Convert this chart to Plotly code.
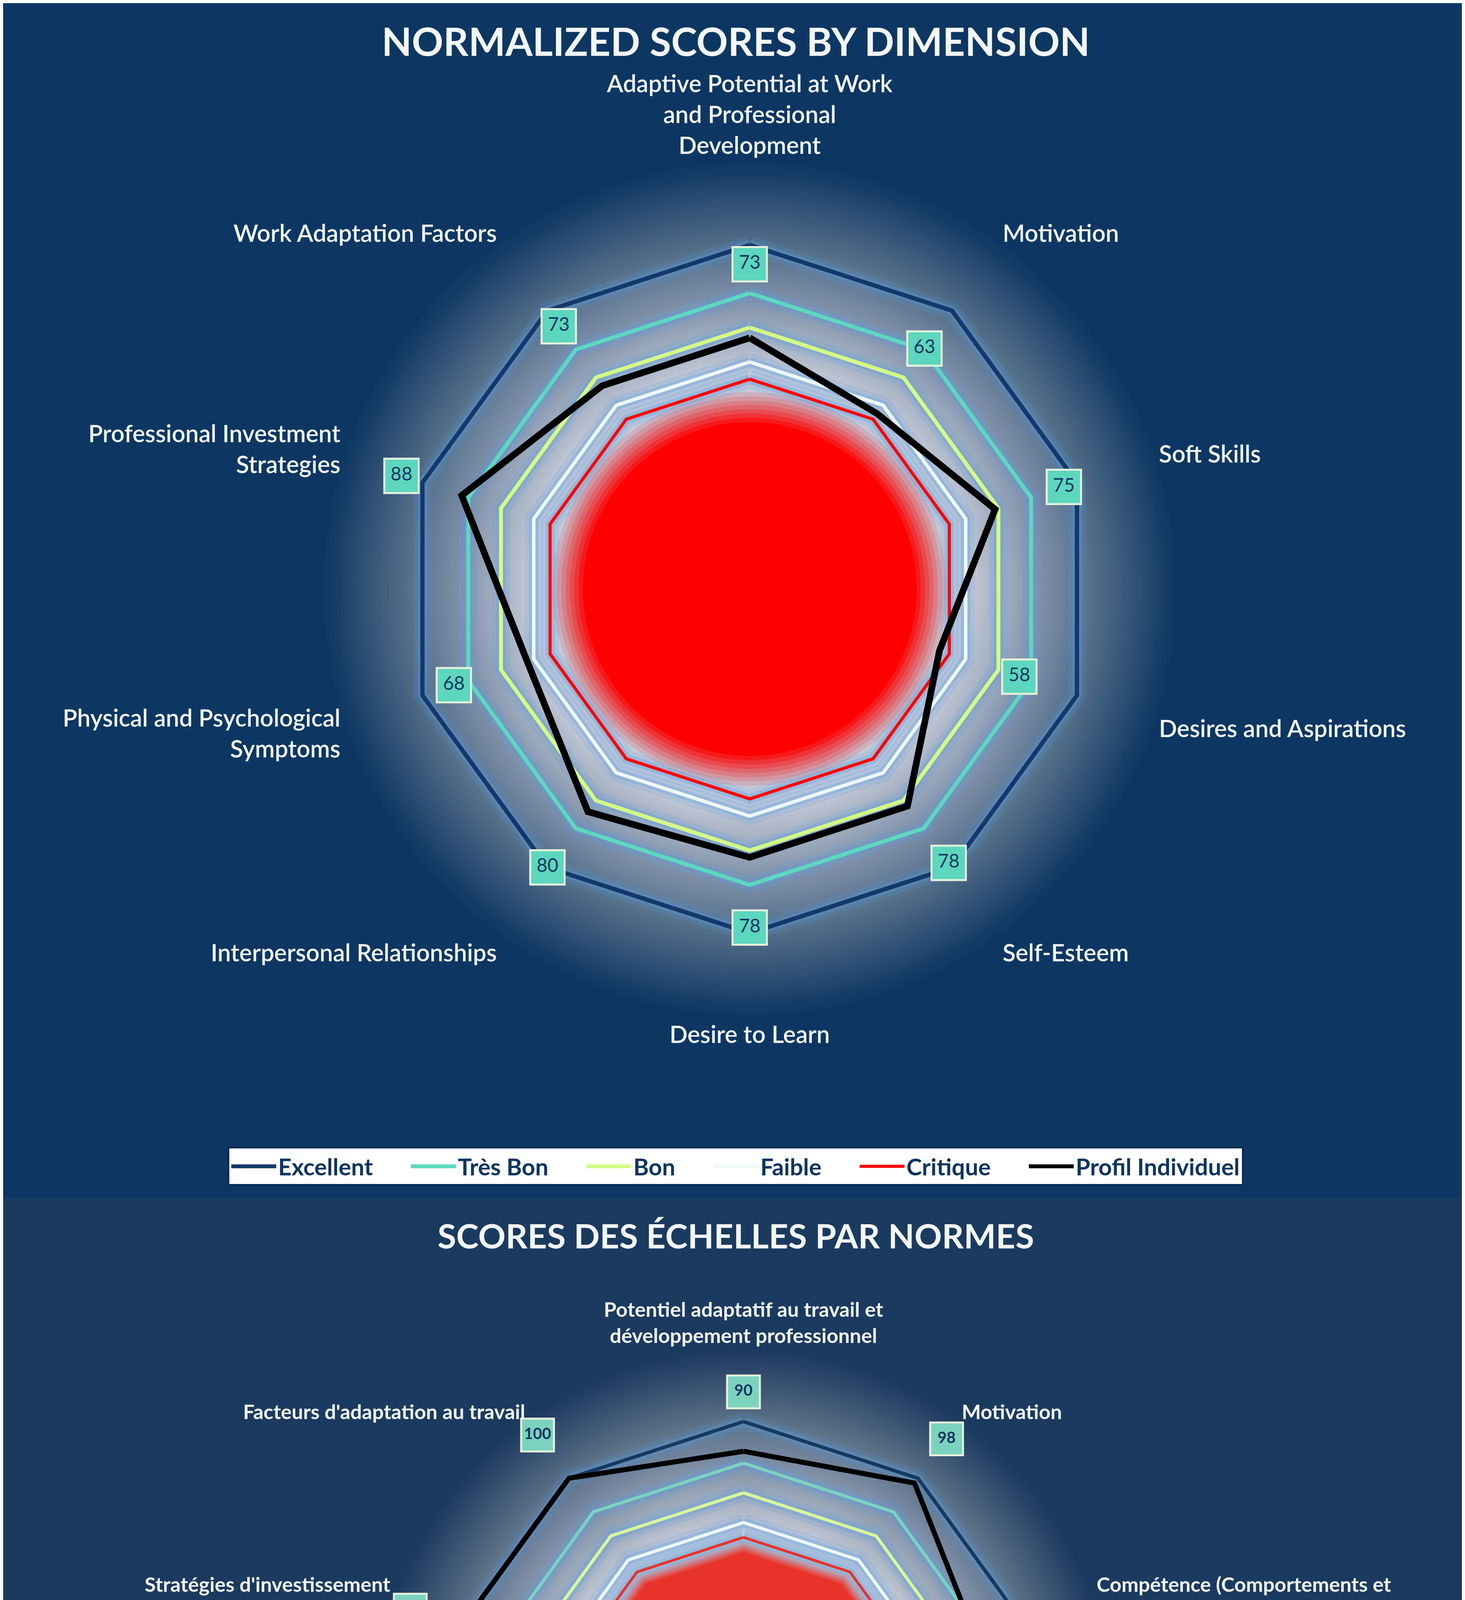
import numpy as np
import plotly.graph_objects as go

# ---------------------------------------------------------------- data
top_title = "NORMALIZED SCORES BY DIMENSION"
top_categories = [
    "Adaptive Potential at Work<br>and Professional<br>Development",
    "Motivation",
    "Soft Skills",
    "Desires and Aspirations",
    "Self-Esteem",
    "Desire to Learn",
    "Interpersonal Relationships",
    "Physical and Psychological<br>Symptoms",
    "Professional Investment<br>Strategies",
    "Work Adaptation Factors",
]
top_profile = [73, 63, 75, 58, 78, 78, 80, 68, 88, 73]

bottom_title = "SCORES DES ÉCHELLES PAR NORMES"
bottom_categories = [
    "Potentiel adaptatif au travail et<br>développement professionnel",
    "Motivation",
    "Compétence (Comportements et<br>attitudes)",
    "Désirs et aspirations",
    "Estime de soi",
    "Désir d'apprendre",
    "Relation interpersonnelle",
    "Symptômes physiques et<br>psychologiques",
    "Stratégies d'investissement<br>professionnel",
    "Facteurs d'adaptation au travail",
]
bottom_profile = [90, 98, 83, 75, 85, 88, 100, 85, 100, 100]

norm_names = ["Excellent", "Très Bon", "Bon", "Faible", "Critique"]
norm_levels = [100, 86, 76, 66, 61]
profile_name = "Profil Individuel"

# ---------------------------------------------------------------- styles
W, H = 3750, 5771
R_MAX = 125
FONT = "Lato"
TOP_BG = "#0d3762"
BOTTOM_BG = "#1b3a5f"
LEGEND_GAP = "\u00a0" * 6   # spacing after each legend entry

TOP_STYLE = dict(
    subplot="polar", legend="legend",
    ring_colors=["#14386a", "#5ed8bf", "#d4fb84", "#eef8f8", "#ff0000"],
    ring_widths=[11, 10, 10, 9, 8],
    profile_width=17,
    red="255,0,0", red_shape="circle", red_out=59, red_in=50,
    label_offset=36, label_size=88, label_font=48, label_weight="normal",
    label_fill="#5dd6be",
)
BOTTOM_STYLE = dict(
    subplot="polar2", legend="legend2",
    ring_colors=["#17395f", "#7bd3bf", "#d9f79a", "#eef8f8", "#e8332a"],
    ring_widths=[9, 8, 8, 8, 7],
    profile_width=13,
    red="232,51,42", red_shape="polygon", red_out=60, red_in=56,
    label_offset=38, label_size=84, label_font=40, label_weight="bold",
    label_fill="#7bd3bf",
)


def closed(values):
    return list(values) + [values[0]]


def add_radar(fig, categories, profile, st):
    n = len(categories)
    theta = closed([i * 360 / n for i in range(n)])
    circle = np.arange(0, 361, 2)
    common = dict(subplot=st["subplot"], hoverinfo="skip", showlegend=False)

    # soft halo behind the chart (stacked translucent discs)
    radii = np.linspace(124, 64, 48)
    prev = 0.0
    for k, rad in enumerate(radii, 1):
        cum = 0.97 * k / len(radii)
        a = 1 - (1 - cum) / (1 - prev)
        prev = cum
        fig.add_trace(go.Scatterpolar(
            r=[rad] * len(circle), theta=circle, mode="lines",
            line=dict(width=0), fill="toself",
            fillcolor=f"rgba(204,211,223,{a:.3f})", **common))

    # blurred red core
    steps = np.linspace(st["red_out"], st["red_in"], 8)
    prev = 0.0
    for k, rad in enumerate(steps, 1):
        cum = k / len(steps)
        a = 1 - (1 - cum) / (1 - prev) if prev < 1 else 1
        prev = cum
        if st["red_shape"] == "circle":
            rr, th = [rad * 0.97] * len(circle), circle
        else:
            rr, th = [rad] * len(theta), theta
        fig.add_trace(go.Scatterpolar(
            r=rr, theta=th, mode="lines", line=dict(width=0),
            fill="toself", fillcolor=f"rgba({st['red']},{min(a, 1):.3f})",
            **common))

    # blue glow around the norm rings
    for level in norm_levels:
        for width, alpha in [(46, 0.16), (24, 0.30)]:
            fig.add_trace(go.Scatterpolar(
                r=[level] * len(theta), theta=theta, mode="lines",
                line=dict(color=f"rgba(90,155,225,{alpha})", width=width),
                **common))

    # norm rings
    for name, level, color, width in zip(norm_names, norm_levels,
                                         st["ring_colors"], st["ring_widths"]):
        fig.add_trace(go.Scatterpolar(
            r=[level] * len(theta), theta=theta, mode="lines",
            name=name + LEGEND_GAP,
            line=dict(color=color, width=width), subplot=st["subplot"],
            legend=st["legend"], hoverinfo="skip"))

    # individual profile
    fig.add_trace(go.Scatterpolar(
        r=closed(profile), theta=theta, mode="lines", name=profile_name,
        line=dict(color="#000000", width=st["profile_width"]),
        subplot=st["subplot"], legend=st["legend"], hoverinfo="skip"))

    # value boxes, pushed outward from each profile point
    fig.add_trace(go.Scatterpolar(
        r=[0.8 * v + st["label_offset"] for v in profile], theta=theta[:-1],
        mode="markers+text", text=[str(v) for v in profile],
        textposition="middle center",
        textfont=dict(family=FONT, size=st["label_font"], color="#0f3560",
                      weight=st["label_weight"]),
        marker=dict(symbol="square", size=st["label_size"],
                    color=st["label_fill"],
                    line=dict(color="#e8f1dc", width=5)),
        cliponaxis=False, **common))


fig = go.Figure()
add_radar(fig, top_categories, top_profile, TOP_STYLE)
add_radar(fig, bottom_categories, bottom_profile, BOTTOM_STYLE)


def polar_layout(domain_x, domain_y, categories, font_size, weight):
    n = len(categories)
    return dict(
        domain=dict(x=domain_x, y=domain_y),
        bgcolor="rgba(0,0,0,0)",
        radialaxis=dict(range=[0, R_MAX], visible=False),
        angularaxis=dict(
            rotation=90, direction="clockwise", thetaunit="degrees",
            tickmode="array", tickvals=[i * 360 / n for i in range(n)],
            ticktext=categories, ticks="", showgrid=False, showline=False,
            tickfont=dict(family=FONT, size=font_size, color="#f3f7f9",
                          weight=weight),
        ),
    )


fig.update_layout(
    width=W, height=H,
    margin=dict(l=0, r=0, t=0, b=0),
    paper_bgcolor=TOP_BG,
    plot_bgcolor=TOP_BG,
    polar=polar_layout([0.2160, 0.8032], [0.5493, 0.9309],
                       top_categories, 61, 600),
    polar2=polar_layout([0.2520, 0.7587], [0.0745, 0.4037],
                        bottom_categories, 52, "bold"),
    legend=dict(
        orientation="h", x=0.5, xanchor="center", y=0.484, yanchor="middle",
        bgcolor="#ffffff", bordercolor="#0a2c55", borderwidth=5,
        itemwidth=115,
        font=dict(family=FONT, size=60, color="#0e3560", weight="bold"),
    ),
    legend2=dict(
        orientation="h", x=0.5, xanchor="center", y=0.013, yanchor="middle",
        bgcolor="#ffffff", borderwidth=0, itemwidth=100,
        font=dict(family=FONT, size=54, color="#1b3a60", weight="bold"),
    ),
    shapes=[dict(type="rect", xref="paper", yref="paper", x0=0, x1=1,
                 y0=0, y1=1 - 3060 / H, fillcolor=BOTTOM_BG,
                 line=dict(width=0), layer="below")],
    annotations=[
        dict(text=top_title, x=0.5, y=1 - 96 / H, xref="paper", yref="paper",
             showarrow=False, yanchor="middle",
             font=dict(family=FONT, size=100, color="#f3f7f9", weight="bold")),
        dict(text=bottom_title, x=0.5, y=1 - 3154 / H, xref="paper",
             yref="paper", showarrow=False, yanchor="middle",
             font=dict(family=FONT, size=87, color="#f3f7f9", weight="bold")),
    ],
)

fig.write_html("out.html")
